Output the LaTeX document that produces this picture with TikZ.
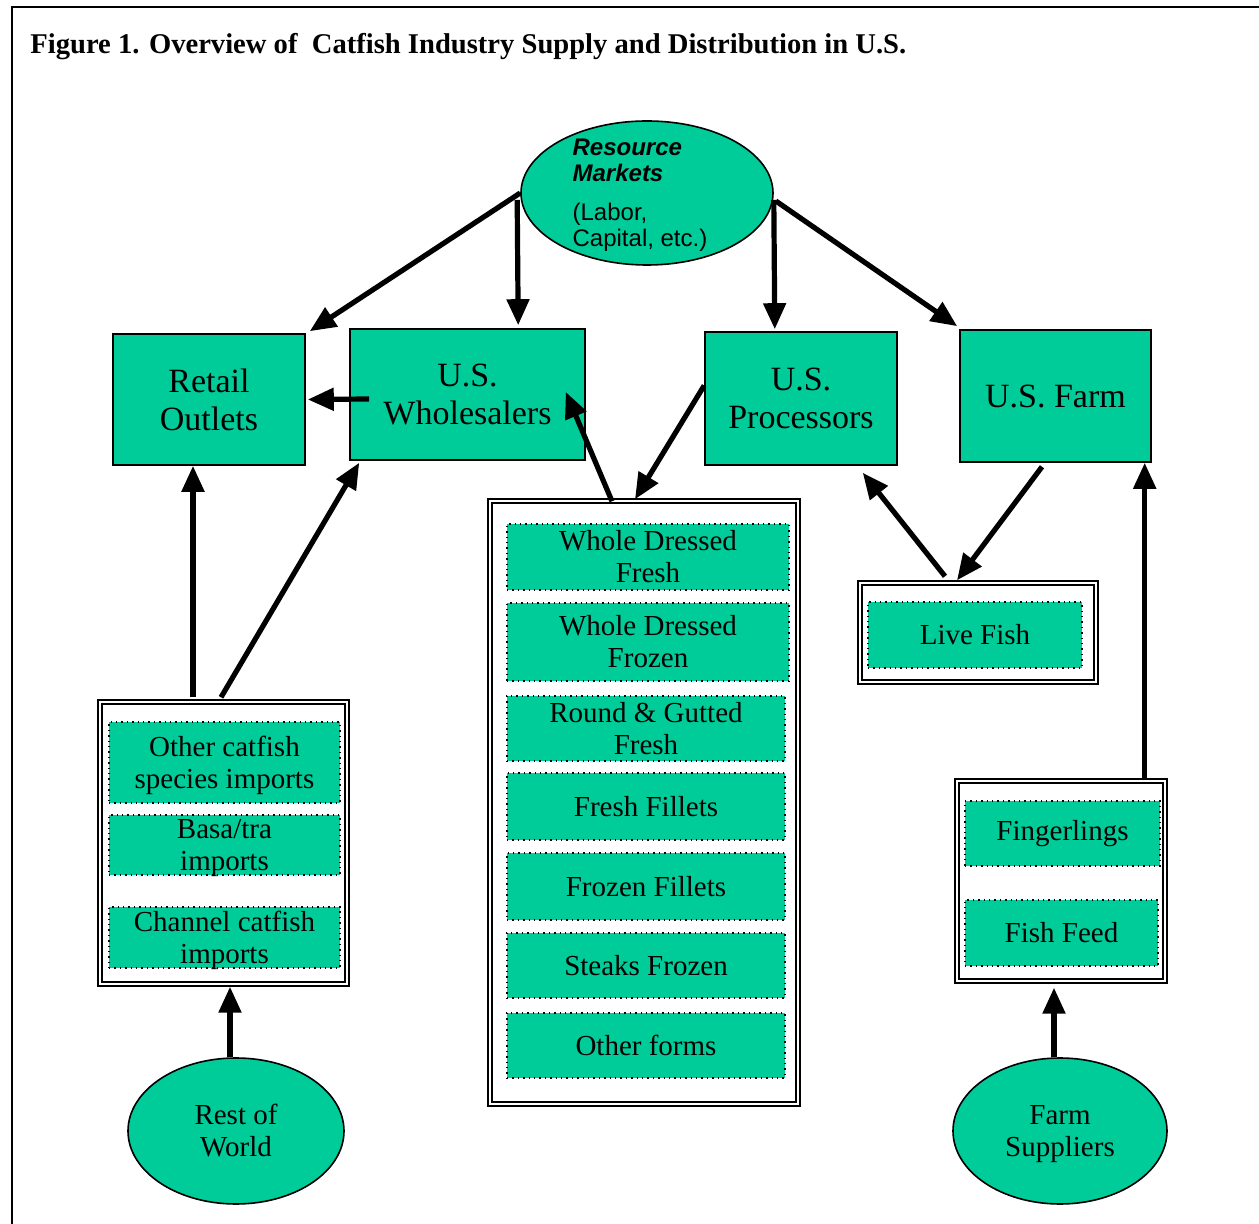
\documentclass[tikz,border=0pt]{standalone}
\usepackage{fontspec}
\setmainfont{Liberation Serif}
\newfontfamily\arialf{Liberation Sans}
\usetikzlibrary{arrows.meta,shapes.geometric,calc}
\definecolor{fishgreen}{RGB}{0,204,153}
\begin{document}
\begin{tikzpicture}[x=0.5pt,y=-0.5pt,
  bigbox/.style={draw=black, line width=0.8pt, fill=fishgreen, inner sep=0pt, align=center,
     font=\fontsize{17}{19}\selectfont},
  itembox/.style={draw=black, dotted, line width=0.7pt, fill=fishgreen, inner sep=0pt, align=center,
     font=\fontsize{14.5}{16}\selectfont},
  group/.style={draw=black, double, line width=0.7pt, double distance=1.4pt, fill=white, inner sep=0pt},
  ell/.style={ellipse, draw=black, line width=0.8pt, fill=fishgreen, inner sep=0pt, align=center,
     font=\fontsize{14.5}{16}\selectfont},
  arr/.style={line width=2.6pt, -{Triangle[length=13pt,width=11pt]}}
]
\useasboundingbox (0,0) rectangle (1259,1224);
\draw[line width=1pt] (12,1240) -- (12,7) -- (1270,7);
\node[anchor=base west, inner sep=0pt, font=\fontsize{14.3}{16}\selectfont\bfseries] (title) at (30,54)
  {Figure 1. Overview of\ \ Catfish Industry Supply and Distribution in U.S.};

% Resource markets
\node[ell, minimum width=126pt, minimum height=72pt, inner sep=-6pt, align=left, text depth=-1.5pt,
  font=\arialf\fontsize{12}{13}\selectfont] (rm) at (647,193)
  {\textbf{\textit{Resource}}\\ \textbf{\textit{Markets}}\\[6.5pt] (Labor,\\ Capital, etc.)\hspace*{7pt}};

% main boxes
\node[bigbox, minimum width=96pt, minimum height=65.5pt] (retail) at (209,399.5) {Retail\\Outlets};
\node[bigbox, minimum width=117.5pt, minimum height=65.5pt] (whole) at (467.5,394.5) {U.S.\\Wholesalers};
\node[bigbox, minimum width=96pt, minimum height=66.5pt] (proc) at (801,398.5) {U.S.\\Processors};
\node[bigbox, minimum width=95.5pt, minimum height=66pt] (farm) at (1055.5,396) {U.S. Farm};

% product forms group
\node[group, minimum width=154pt, minimum height=301.5pt] (prod) at (644,802.5) {};
\node[itembox, minimum width=141pt, minimum height=33pt] (p1) at (648,557) {Whole Dressed\\Fresh};
\node[itembox, minimum width=141pt, minimum height=39pt] (p2) at (648,642) {Whole Dressed\\Frozen};
\node[itembox, minimum width=139pt, minimum height=32.5pt] (p3) at (646,728.5) {Round \& Gutted\\Fresh};
\node[itembox, minimum width=139pt, minimum height=33.5pt] (p4) at (646,806.5) {Fresh Fillets};
\node[itembox, minimum width=139pt, minimum height=33.5pt] (p5) at (646,886.5) {Frozen Fillets};
\node[itembox, minimum width=139pt, minimum height=32.5pt] (p6) at (646,965.5) {Steaks Frozen};
\node[itembox, minimum width=139pt, minimum height=32.5pt] (p7) at (646,1045.5) {Other forms};

% imports group
\node[group, minimum width=123.5pt, minimum height=141pt] (imp) at (223.5,843) {};
\node[itembox, minimum width=115.5pt, minimum height=40.5pt, text depth=-0.8pt] (i1) at (224.5,762.5) {Other catfish\\species imports};
\node[itembox, minimum width=115.5pt, minimum height=30pt, text depth=-0.8pt] (i2) at (224.5,845) {Basa/tra\\imports};
\node[itembox, minimum width=115.5pt, minimum height=30.5pt, text depth=-0.8pt] (i3) at (224.5,937.5) {Channel catfish\\imports};

% live fish group
\node[group, minimum width=118pt, minimum height=49.5pt] (live) at (978,632.5) {};
\node[itembox, minimum width=107pt, minimum height=33pt] (l1) at (975,635) {Live Fish};

% inputs group
\node[group, minimum width=104pt, minimum height=100pt] (inp) at (1061,881) {};
\node[itembox, minimum width=97.5pt, minimum height=32.5pt] (f1) at (1062.5,833.5) {Fingerlings};
\node[itembox, minimum width=96.5pt, minimum height=33pt] (f2) at (1061.5,933) {Fish Feed};

% ellipses
\node[ell, minimum width=108pt, minimum height=73pt] (row) at (236,1131) {Rest of\\World};
\node[ell, minimum width=107pt, minimum height=73pt, text depth=-0.5pt] (fs) at (1060,1131) {Farm\\Suppliers};

% arrows
\draw[arr] (rm.west) -- ([shift={(4,-2)}]retail.north east);
\draw[arr] ([shift={(-3,7)}]rm.west) -- ([shift={(-2,-3)}]rm.west |- whole.north);
\draw[arr] ([shift={(0,7)}]rm.east) -- ([shift={(1,-2)}]rm.east |- proc.north);
\draw[arr] ([shift={(2,8)}]rm.east) -- ([shift={(-2,-3)}]farm.north west);
\draw[arr] ([shift={(20,4.5)}]whole.west) -- ([shift={(2,0)}]retail.east);
\draw[arr] ([shift={(-32,1)}]prod.north) -- ([shift={(-20,-2.5)}]whole.east);
\draw[arr] ([shift={(0,-13)}]proc.west) -- ([shift={(-9,-1)}]prod.north);
\draw[arr] ([shift={(-33,-6)}]live.north) -- ([shift={(-35,7)}]proc.south east);
\draw[arr] ([shift={(-13.5,4)}]farm.south) -- ([shift={(-21,-2)}]live.north);
\draw[arr] ([shift={(-21,0)}]inp.north east) -- ([shift={(-21,0)}]inp.north east |- farm.south);
\draw[arr] ([shift={(-6,0)}]fs.north) -- ([shift={(-6,6)}]fs.north |- inp.south);
\draw[arr] ([shift={(-6,0)}]row.north) -- ([shift={(-6,2)}]row.north |- imp.south);
\draw[arr] ([shift={(-30.5,-4)}]imp.north) -- ([shift={(-30.5,0)}]imp.north |- retail.south);
\draw[arr] ([shift={(-2.5,-4)}]imp.north) -- ([shift={(10,2)}]whole.south west);
\end{tikzpicture}
\end{document}
